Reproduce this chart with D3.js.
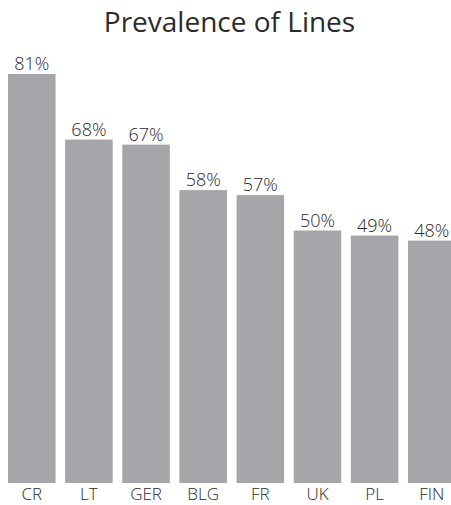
<!DOCTYPE html>
<html>
<head>
<meta charset="utf-8">
<script src="https://cdn.jsdelivr.net/npm/d3@7/dist/d3.min.js"></script>
<style>
  html, body { margin: 0; padding: 0; background: #fff; }
  svg { display: block; }
  text { font-family: "Open Sans", "Noto Sans", sans-serif; fill: #2b2b2b; }
</style>
</head>
<body>
<svg id="chart" width="451" height="505"></svg>
<script>
// Share of respondents per country
const countries = ["CR", "LT", "GER", "BLG", "FR", "UK", "PL", "FIN"];
const shares = [81, 68, 67, 58, 57, 50, 49, 48];
const chartTitle = "Prevalence of Lines";

const width = 451, height = 505;
const svg = d3.select("#chart");

const x = d3.scaleBand()
  .domain(countries)
  .range([3.2, 460.3])
  .paddingInner(0.168)
  .paddingOuter(0.084);

const y = d3.scaleLinear()
  .domain([0, 100])
  .range([483, -22]);

svg.append("text")
  .attr("x", width / 2 + 4)
  .attr("y", 32)
  .attr("text-anchor", "middle")
  .style("font-size", "28px")
  .style("font-weight", 400)
  .text(chartTitle);

const data = countries.map((c, i) => ({ country: c, value: shares[i] }));

svg.append("g").selectAll("rect")
  .data(data)
  .join("rect")
  .attr("x", d => x(d.country))
  .attr("y", d => y(d.value))
  .attr("width", x.bandwidth())
  .attr("height", d => y(0) - y(d.value))
  .attr("fill", "#a6a6aa");

svg.append("g").selectAll("text")
  .data(data)
  .join("text")
  .attr("x", d => x(d.country) + x.bandwidth() / 2)
  .attr("y", d => y(d.value) - 4)
  .attr("text-anchor", "middle")
  .style("font-size", "18px")
  .style("font-weight", 300)
  .text(d => d.value + "%");

// Category axis without a domain line or ticks
const xAxis = svg.append("g")
  .attr("transform", `translate(0,${y(0)})`)
  .call(d3.axisBottom(x).tickSize(0).tickPadding(5));
xAxis.select(".domain").remove();
xAxis.selectAll("text")
  .attr("fill", "#2b2b2b")
  .style("font-family", "\"Open Sans\", \"Noto Sans\", sans-serif")
  .style("font-size", "17px")
  .style("font-weight", 300);
</script>
</body>
</html>
